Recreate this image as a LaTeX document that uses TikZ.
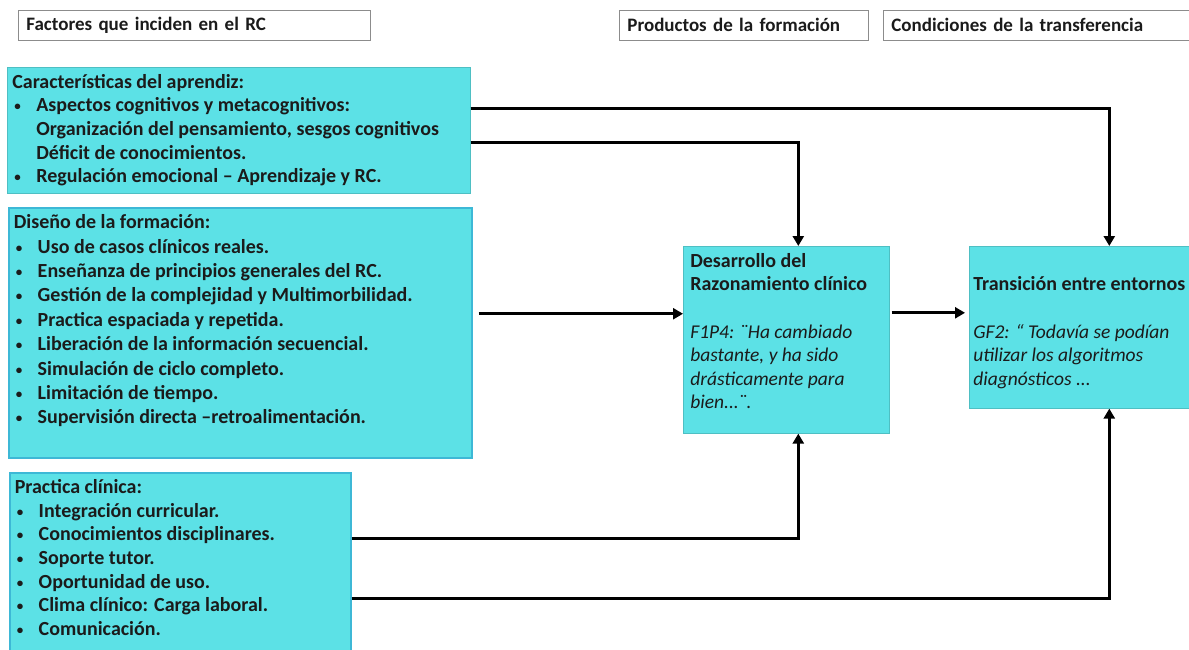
\documentclass[tikz,border=0pt]{standalone}
\usepackage{fontspec}
\setmainfont{Carlito}
\usetikzlibrary{arrows.meta,positioning}
\definecolor{boxfill}{HTML}{5CE1E6}
\definecolor{boxedge}{HTML}{3DB8D6}
\definecolor{hdredge}{HTML}{8C8C8C}
\definecolor{inktext}{HTML}{1B1B1B}
\newcommand{\bul}{\makebox[24pt][l]{\hspace{2pt}\raisebox{1pt}{\fontsize{13}{13}\selectfont •}}}
\newcommand{\cont}{\hspace*{24pt}}
\newcommand{\boxbody}[3]{\parbox[t][#2][t]{#1}{\raggedright\rule{0pt}{21pt}#3}}

\begin{document}
\begin{tikzpicture}[x=1pt,y=-1pt,>={Triangle[length=10pt,width=11pt]},
		font=\fontsize{20}{23.6}\selectfont\bfseries,text=inktext]
		\tikzstyle{header}=[draw=hdredge,line width=0.8pt,fill=white,anchor=north west,
		minimum height=30pt,inner xsep=8pt,inner ysep=0pt,align=left,
		font=\fontsize{19}{22}\selectfont\bfseries]
		\tikzstyle{factor}=[fill=boxfill,draw=boxfill!85!black,line width=0.6pt,
		anchor=north west,inner xsep=5pt,inner ysep=0pt]
		\tikzstyle{flow}=[->,line width=2.8pt,black]
		
		\useasboundingbox (0,0) rectangle (1189,650);
		
		% headers
		\node[header,text width=336pt] (hfactores) at (18,10) {Factores que inciden en el RC};
		\node[header,text width=233pt] (hproductos) at (619,10) {Productos de la formación};
		\node[header,text width=304pt] (hcondiciones) at (883,10) {Condiciones de la transferencia};
		
		% factors
		\node[factor] (aprendiz) at (7,67) {\boxbody{453pt}{126pt}{%
				Características del aprendiz:\\
				\bul Aspectos cognitivos y metacognitivos:\\
				\cont Organización del pensamiento, sesgos cognitivos\\
				\cont Déficit de conocimientos.\\
				\bul Regulación emocional – Aprendizaje y RC.}};
		\node[factor,draw=boxedge,line width=1.5pt] (diseno) at (8,207) {\boxbody{453pt}{250pt}{%
				\fontsize{20}{24.4}\selectfont
				Diseño de la formación:\\
				\bul Uso de casos clínicos reales.\\
				\bul Enseñanza de principios generales del RC.\\
				\bul Gestión de la complejidad y Multimorbilidad.\\
				\bul Practica espaciada y repetida.\\
				\bul Liberación de la información secuencial.\\
				\bul Simulación de ciclo completo.\\
				\bul Limitación de tiempo.\\
				\bul Supervisión directa –retroalimentación.}};
		\node[factor,draw=boxedge,line width=1.5pt] (practica) at (9,472) {\boxbody{331pt}{190pt}{%
				Practica clínica:\\
				\bul Integración curricular.\\
				\bul Conocimientos disciplinares.\\
				\bul Soporte tutor.\\
				\bul Oportunidad de uso.\\
				\bul Clima clínico: Carga laboral.\\
				\bul Comunicación.}};
		
		% products and transfer
		\node[factor,inner xsep=7pt] (desarrollo) at (683,246) {\boxbody{192pt}{187pt}{%
				Desarrollo del\\
				Razonamiento clínico\\ ~\\
				{\fontsize{19.5}{23.6}\selectfont\mdseries\itshape \mbox{F1P4: ¨Ha cambiado}\\
					bastante, y ha sido\\
					drásticamente para\\
					bien...¨.}}};
		\node[factor,inner xsep=4pt] (transicion) at (969,246) {\boxbody{240pt}{162pt}{%
				~\\
				Transición entre entornos\\ ~\\
				{\fontsize{19.5}{23.6}\selectfont\mdseries\itshape GF2: “ Todavía se podían\\
					utilizar los algoritmos\\
					diagnósticos ...}}};
		
		% connectors
		\draw[flow] ([yshift=22pt]aprendiz.east) -| ([xshift=16pt]transicion.north);
		\draw[flow] ([yshift=-12pt]aprendiz.east) -| ([xshift=12pt]desarrollo.north);
		\draw[flow] ([xshift=6pt,yshift=19pt]diseno.east) coordinate (d1) -- (d1 -| desarrollo.west);
		\draw[flow] ([xshift=2pt,yshift=27pt]desarrollo.east) coordinate (d2) -- ([xshift=-4pt]d2 -| transicion.west);
		\draw[flow] ([yshift=29pt]practica.east) -| ([xshift=12pt]desarrollo.south);
		\draw[flow] ([yshift=-31pt]practica.east) -| ([xshift=16pt]transicion.south);
\end{tikzpicture}
\end{document}
